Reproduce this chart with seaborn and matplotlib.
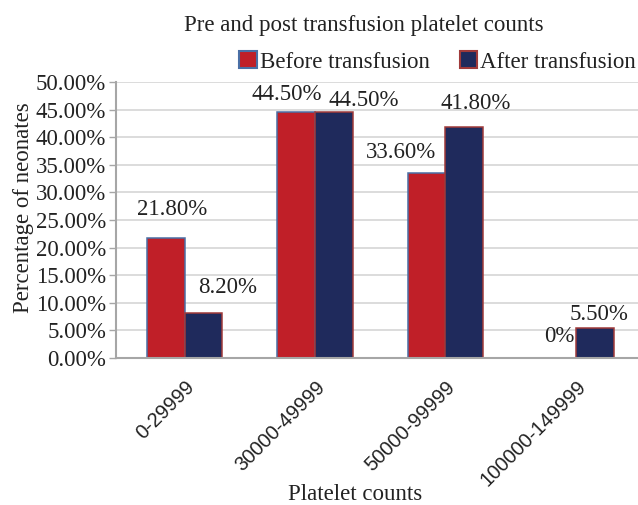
import matplotlib
matplotlib.use("Agg")
import matplotlib.pyplot as plt
import matplotlib.transforms as mtransforms
from matplotlib.patches import Patch
from matplotlib.ticker import FuncFormatter
import seaborn as sns
import pandas as pd

# ---- data ----
categories = ["0-29999", "30000-49999", "50000-99999", "100000-149999"]
series_names = ["Before transfusion", "After transfusion"]
before_values = [21.8, 44.5, 33.6, 0.0]
after_values = [8.2, 44.5, 41.8, 5.5]

title = "Pre and post transfusion platelet counts"
x_title = "Platelet counts"
y_title = "Percentage of neonates"

# ---- styles ----
face_colors = ["#C01F28", "#1F2A5C"]
edge_colors = ["#4A6FA5", "#A03A3A"]
text_color = "#222222"
serif = "Liberation Serif"
sans = "Liberation Sans"
fs = 16.5
# data-label offsets in pixels (dx, dy) relative to bar top centre
label_offsets = [
    [(6, 28), (-9, 18), (-26, 20), (2, 21)],
    [(24, 25), (30, 12), (11, 24), (4, 13)],
]

df = pd.DataFrame({
    "category": categories * 2,
    "series": [series_names[0]] * len(categories) + [series_names[1]] * len(categories),
    "value": before_values + after_values,
})

sns.set_theme(style="white")
plt.rcParams["font.family"] = [serif, "DejaVu Serif"]

W, H = 638, 505
fig = plt.figure(figsize=(W / 100, H / 100), dpi=100)
ax_left, ax_right, ax_bottom, ax_top = 116, 638, 358, 82
ax = fig.add_axes([ax_left / W, 1 - ax_bottom / H, (ax_right - ax_left) / W, (ax_bottom - ax_top) / H])

sns.barplot(data=df, x="category", y="value", hue="series", order=categories,
            hue_order=series_names, palette=face_colors, width=0.575,
            ax=ax, legend=False, errorbar=None, saturation=1)

for i, cont in enumerate(ax.containers):
    for j, p in enumerate(cont.patches):
        p.set_edgecolor(edge_colors[i])
        p.set_linewidth(1.1)
        p.set_zorder(2)
        v = [before_values, after_values][i][j]
        lab = f"{v:.2f}%" if v else "0%"
        dx, dy = label_offsets[i][j]
        ax.annotate(lab, (p.get_x() + p.get_width() / 2, p.get_height()),
                    xytext=(dx, dy), textcoords="offset pixels",
                    ha="center", va="center", fontsize=fs, color=text_color,
                    family=serif)

# x range: category spacing 130.5 px, first centre at 184.5 px
sp = 130.5
ax.set_xlim(-(184.5 - ax_left) / sp, (ax_right - 184.5) / sp)
ax.set_ylim(0, 50)
ax.set_yticks(range(0, 51, 5))
ax.yaxis.set_major_formatter(FuncFormatter(lambda v, _: f"{v:.2f}%"))
ax.set_axisbelow(True)
ax.yaxis.grid(True, color="#D9D9D9", linewidth=1.3)
ax.xaxis.grid(False)

for s in ["top", "right"]:
    ax.spines[s].set_visible(False)
for s in ["left", "bottom"]:
    ax.spines[s].set_color("#A6A6A6")
    ax.spines[s].set_linewidth(1.5)
ax.spines["bottom"].set_zorder(3)

ax.tick_params(axis="y", which="both", left=True, length=5, width=1, color="#A6A6A6",
               labelsize=fs, labelcolor=text_color, pad=2)
ax.tick_params(axis="x", bottom=False, length=0, pad=0)
ax.set_xticks(range(len(categories)))
ax.set_xticklabels(categories, rotation=45, ha="right", va="center",
                   rotation_mode="anchor", fontsize=14.5, color=text_color, family=sans)
offset = mtransforms.ScaledTranslation(7 / 100, -26 / 100, fig.dpi_scale_trans)
for lbl in ax.get_xticklabels():
    lbl.set_transform(lbl.get_transform() + offset)

ax.set_xlabel(x_title, fontsize=fs, color=text_color)
ax.xaxis.set_label_coords((355 - ax_left) / (ax_right - ax_left), (ax_bottom - 484) / (ax_bottom - ax_top))
ax.set_ylabel(y_title, fontsize=fs, color=text_color)
ax.yaxis.set_label_coords((34 - ax_left) / (ax_right - ax_left), (ax_bottom - 208) / (ax_bottom - ax_top))

fig.text(364 / W, 1 - 25 / H, title, ha="center", va="center", fontsize=fs, color=text_color)

handles = [Patch(facecolor=face_colors[k], edgecolor=edge_colors[k], linewidth=1.5) for k in range(2)]
fig.legend(handles, series_names, loc="center right", bbox_to_anchor=(636 / W, 1 - 62 / H),
           ncol=2, frameon=False, fontsize=fs, handlelength=0.75, handleheight=0.75,
           handletextpad=0.15, columnspacing=1.3, borderpad=0, borderaxespad=0,
           labelcolor=text_color)

fig.savefig("out.png", dpi=100)
